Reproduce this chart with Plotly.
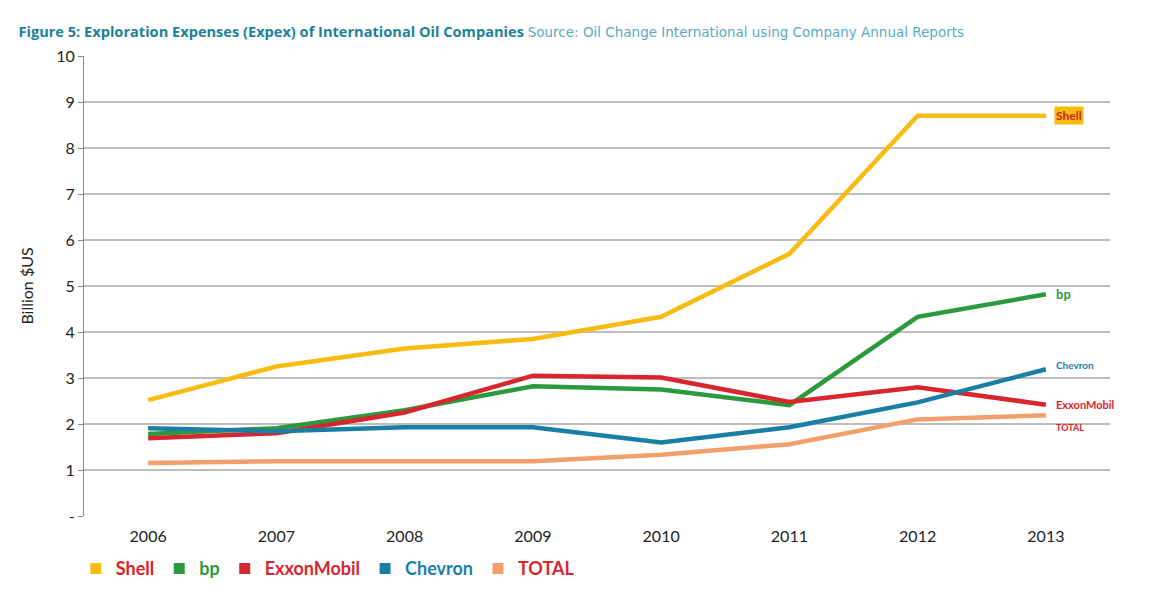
import plotly.graph_objects as go

# Years on the x axis
years = ["2006", "2007", "2008", "2009", "2010", "2011", "2012", "2013"]

# Exploration expenses, billion $US
shell = [2.52, 3.25, 3.64, 3.85, 4.33, 5.70, 8.70, 8.70]
bp = [1.78, 1.91, 2.30, 2.82, 2.75, 2.41, 4.33, 4.82]
exxon = [1.69, 1.80, 2.25, 3.05, 3.01, 2.48, 2.80, 2.42]
chevron = [1.91, 1.84, 1.93, 1.93, 1.60, 1.93, 2.47, 3.19]
total = [1.15, 1.19, 1.19, 1.19, 1.33, 1.56, 2.10, 2.19]

# y ticks, zero shown as a dash
y_ticks = [0, 1, 2, 3, 4, 5, 6, 7, 8, 9, 10]
y_labels = ["-", "1", "2", "3", "4", "5", "6", "7", "8", "9", "10"]

companies = [
    ("Shell", shell, "#f8bb12", "#dd1d21"),
    ("bp", bp, "#2b9a3d", "#2b9a3d"),
    ("ExxonMobil", exxon, "#d8262e", "#d8262e"),
    ("Chevron", chevron, "#1a7fa3", "#1a7fa3"),
    ("TOTAL", total, "#f1a06c", "#d8262e"),
]

fig = go.Figure()

# Lines
for name, values, color, _ in companies:
    fig.add_trace(
        go.Scatter(
            x=years,
            y=values,
            mode="lines",
            line=dict(color=color, width=4.5),
            name=name,
            showlegend=False,
        )
    )

# Legend entries: coloured square + company name
for name, values, color, text_color in companies:
    fig.add_trace(
        go.Scatter(
            x=[None],
            y=[None],
            mode="markers",
            marker=dict(symbol="square", size=11, color=color),
            name=f"<b><span style='color:{text_color}'>{name}</span></b>",
        )
    )

# Company labels at the end of each line (x given as category index)
last = len(years) - 1
end_labels = [
    ("Shell", shell[-1], "#dd1d21", "#f8bb12", 12, 0),
    ("bp", bp[-1], "#2b9a3d", None, 13, 0),
    ("Chevron", chevron[-1], "#1a7fa3", None, 10, 4),
    ("ExxonMobil", exxon[-1], "#d8262e", None, 11, 0),
    ("TOTAL", total[-1], "#d8262e", None, 9, -12),
]
for text, yval, fcolor, bg, size, yshift in end_labels:
    fig.add_annotation(
        x=last,
        y=yval,
        text=f"<b>{text}</b>",
        showarrow=False,
        xanchor="left",
        xshift=8,
        yshift=yshift,
        font=dict(family="Lato", size=size, color=fcolor),
        bgcolor=bg if bg else "rgba(0,0,0,0)",
    )

# page is drawn with an 8px body margin, so the figure is 8px smaller
fig.update_layout(
    width=1158,
    height=590,
    paper_bgcolor="white",
    plot_bgcolor="white",
    margin=dict(l=76, r=56, t=48, b=81),
    font=dict(family="Lato", color="#222222"),
    title=dict(
        text=(
            "<b>Figure 5: Exploration Expenses (Expex) of International Oil Companies</b>"
            " <span style='font-family:DejaVu Sans;font-size:13.5px;color:#5aaabf'>"
            "Source: Oil Change International using Company Annual Reports</span>"
        ),
        x=0.009,
        xanchor="left",
        y=0.959,
        yanchor="middle",
        font=dict(family="Open Sans", size=14.6, color="#1b8299"),
    ),
    legend=dict(
        orientation="h",
        x=-0.008,
        xanchor="left",
        y=-0.072,
        yanchor="top",
        font=dict(family="Lato", size=18),
        itemwidth=30,
    ),
)

fig.update_xaxes(
    type="category",
    range=[-0.5, 7.5],
    showgrid=False,
    showline=False,
    ticks="",
    ticklabelstandoff=9,
    tickfont=dict(size=16, color="#222222"),
    automargin=False,
)

fig.update_yaxes(
    range=[0, 10],
    tickvals=y_ticks,
    ticktext=y_labels,
    showgrid=True,
    gridcolor="#bdbdbd",
    gridwidth=1.5,
    zeroline=False,
    showline=True,
    linecolor="#888888",
    linewidth=1,
    ticks="outside",
    ticklen=5,
    tickcolor="#888888",
    tickfont=dict(size=16, color="#222222"),
    title=dict(text="Billion $US", font=dict(size=16, color="#222222"), standoff=18),
    automargin=False,
)

fig.write_html("out.html")
